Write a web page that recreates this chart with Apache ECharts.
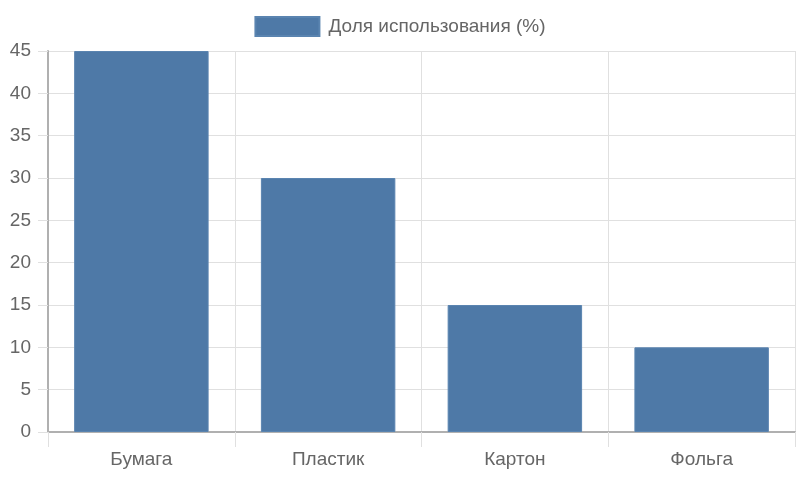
<!DOCTYPE html>
<html><head><meta charset="utf-8">
<script src="https://cdn.jsdelivr.net/npm/echarts@6/dist/echarts.min.js"></script>
<style>html,body{margin:0;padding:0;background:#fff}#c{width:800px;height:480px}</style>
</head><body><div id="c"></div>
<script>
const categories = ['Бумага', 'Пластик', 'Картон', 'Фольга'];
const shareValues = [45, 30, 15, 10];
const seriesName = 'Доля использования (%)';

const chart = echarts.init(document.getElementById('c'));
const font = '"Liberation Sans", Arial, sans-serif';
chart.setOption({
  animation: false,
  textStyle: { fontFamily: font },
  legend: {
    top: 11, left: 'center', icon: 'rect', itemWidth: 64, itemHeight: 19, itemGap: 10,
    textStyle: { fontSize: 19, color: '#666', fontFamily: font, padding: [0, 0, 0, 4] },
    data: [seriesName]
  },
  grid: { left: 48, right: 5, top: 51, bottom: 48, containLabel: false },
  xAxis: {
    type: 'category', data: categories,
    axisLine: { lineStyle: { color: '#b0b0b0', width: 2 } },
    axisTick: { show: true, length: 15, lineStyle: { color: '#e0e0e0' } },
    splitLine: { show: true, lineStyle: { color: '#e0e0e0' } },
    axisLabel: { fontSize: 19, color: '#666', margin: 18, fontFamily: font }
  },
  yAxis: {
    type: 'value', min: 0, max: 45, interval: 5,
    axisLine: { show: true, lineStyle: { color: '#b0b0b0', width: 2 } },
    axisTick: { show: true, length: 10, lineStyle: { color: '#e0e0e0' } },
    splitLine: { show: true, lineStyle: { color: '#e0e0e0' } },
    axisLabel: { fontSize: 19, color: '#666', margin: 17, fontFamily: font }
  },
  series: [{
    name: seriesName, type: 'bar', data: shareValues,
    barCategoryGap: '28%',
    itemStyle: { color: '#4e79a7', borderColor: '#5a84b0', borderWidth: 1 }
  }]
});
</script></body></html>
